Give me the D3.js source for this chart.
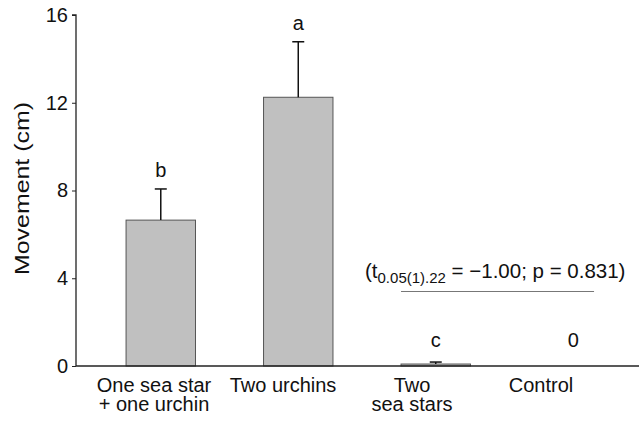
<!DOCTYPE html>
<html>
<head>
<meta charset="utf-8" />
<script src="https://d3js.org/d3.v7.min.js"></script>
<style>
  body { margin: 0; background: #fff; }
  text { font-family: "Liberation Sans", Arial, Helvetica, sans-serif; fill: #111; }
</style>
</head>
<body>
<div id="visu"></div>
<script>
// Dimensions
const largeur = 639;
const hauteur = 422;

// Data
const categories = ["One sea star + one urchin", "Two urchins", "Two sea stars", "Control"];
const labelLines = [["One sea star", "+ one urchin"], ["Two urchins"], ["Two", "sea stars"], ["Control"]];
const moyennes = [6.65, 12.25, 0.09, 0];
const erreurs = [1.42, 2.53, 0.09, 0];
const lettres = ["b", "a", "c", "0"];
const yTicks = [0, 4, 8, 12, 16];

const svg = d3.select('#visu').append('svg')
    .attr('width', largeur)
    .attr('height', hauteur);

// Scales
const x = d3.scaleBand()
    .domain(categories)
    .range([58, 676])
    .paddingInner(0.495)
    .paddingOuter(0.495);

const xLabel = d3.scalePoint()
    .domain(categories)
    .range([154, 541]);

const y = d3.scaleLinear()
    .domain([0, 16])
    .range([366, 15]);

const axeX0 = 76;

// Bars
svg.selectAll('.bar')
    .data(categories)
    .enter()
    .append('rect')
    .attr('class', 'bar')
    .attr('x', d => x(d))
    .attr('y', (d, i) => y(moyennes[i]))
    .attr('width', x.bandwidth())
    .attr('height', (d, i) => y(0) - y(moyennes[i]))
    .attr('fill', '#c0c0c0')
    .attr('stroke', '#555')
    .attr('stroke-width', 1)
    .style('display', (d, i) => moyennes[i] > 0 ? null : 'none');

// Error bars (upper only)
const err = svg.selectAll('.err')
    .data(categories.filter((d, i) => erreurs[i] > 0))
    .enter()
    .append('g')
    .attr('class', 'err');

err.append('line')
    .attr('x1', d => x(d) + x.bandwidth() / 2)
    .attr('x2', d => x(d) + x.bandwidth() / 2)
    .attr('y1', d => y(moyennes[categories.indexOf(d)]))
    .attr('y2', d => { const i = categories.indexOf(d); return y(moyennes[i] + erreurs[i]); })
    .attr('stroke', '#111')
    .attr('stroke-width', 1.5);

err.append('line')
    .attr('x1', d => x(d) + x.bandwidth() / 2 - 6)
    .attr('x2', d => x(d) + x.bandwidth() / 2 + 6)
    .attr('y1', d => { const i = categories.indexOf(d); return y(moyennes[i] + erreurs[i]); })
    .attr('y2', d => { const i = categories.indexOf(d); return y(moyennes[i] + erreurs[i]); })
    .attr('stroke', '#111')
    .attr('stroke-width', 1.5);

// Significance letters
svg.selectAll('.lettre')
    .data(categories)
    .enter()
    .append('text')
    .attr('class', 'lettre')
    .attr('x', d => x(d) + x.bandwidth() / 2)
    .attr('y', (d, i) => Math.min(y(moyennes[i] + erreurs[i]) - 12, y(0) - 19))
    .attr('text-anchor', 'middle')
    .attr('font-size', 20)
    .text((d, i) => lettres[i]);

// Y axis
const axeY = d3.axisLeft(y)
    .tickValues(yTicks)
    .tickSize(4)
    .tickPadding(4);

svg.append('g')
    .attr('class', 'y-axis')
    .attr('transform', `translate(${axeX0}, 0)`)
    .call(axeY)
    .call(g => g.select('.domain').attr('d', `M-4,${y(16)}H0V${y(0)}`).attr('stroke', '#222').attr('stroke-width', 1.3))
    .call(g => g.selectAll('.tick line').attr('stroke', '#222'))
    .call(g => g.selectAll('.tick text')
        .attr('font-size', 20)
        .attr('font-family', '"Liberation Sans", Arial, sans-serif')
        .attr('fill', '#111'));

// X axis line
svg.append('line')
    .attr('x1', axeX0)
    .attr('x2', largeur)
    .attr('y1', y(0))
    .attr('y2', y(0))
    .attr('stroke', '#222')
    .attr('stroke-width', 1.3);

// Category labels
const etiquettes = svg.selectAll('.cat')
    .data(categories)
    .enter()
    .append('text')
    .attr('class', 'cat')
    .attr('text-anchor', 'middle')
    .attr('font-size', 20)
    .attr('y', 392);

etiquettes.each(function(d, i) {
    const t = d3.select(this);
    labelLines[i].forEach((ligne, j) => {
        t.append('tspan')
            .attr('x', xLabel(d))
            .attr('y', 392 + j * 18.5)
            .text(ligne);
    });
});

// Y axis title
svg.append('text')
    .attr('transform', 'translate(28.5, 188.5) rotate(-90)')
    .attr('text-anchor', 'middle')
    .attr('font-size', 21)
    .attr('textLength', 173)
    .attr('lengthAdjust', 'spacingAndGlyphs')
    .text('Movement (cm)');

// t-test annotation between the last two groups
const stat = svg.append('text')
    .attr('x', 365)
    .attr('y', 278)
    .attr('font-size', 20.5);
stat.append('tspan').text('(t');
stat.append('tspan').attr('font-size', 15).attr('dy', 5).text('0.05(1).22');
stat.append('tspan').attr('dy', -5).text(' = \u22121.00; p = 0.831)');

svg.append('line')
    .attr('x1', x(categories[2]))
    .attr('x2', x(categories[3]) + x.bandwidth() * 0.8)
    .attr('y1', 291.5)
    .attr('y2', 291.5)
    .attr('stroke', '#777')
    .attr('stroke-width', 1);
</script>
</body>
</html>
